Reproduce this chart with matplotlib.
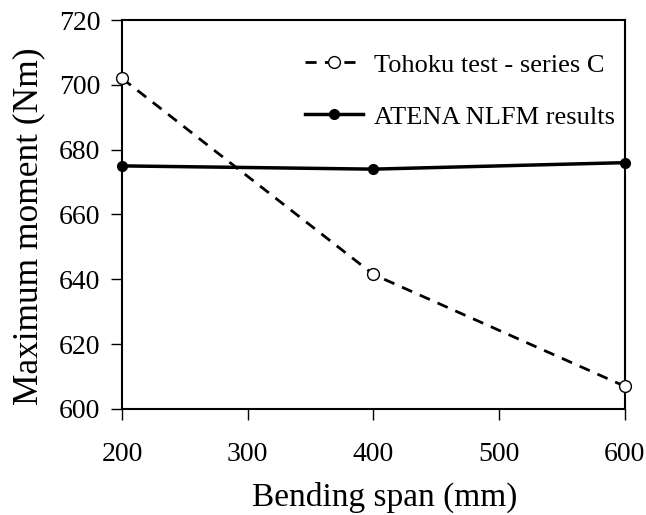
import matplotlib.pyplot as plt

plt.rcParams['font.family'] = ['Liberation Serif', 'DejaVu Serif']

span = [200, 400, 600]
tohoku = [702, 641.5, 607]
atena = [675, 674, 676]

fig = plt.figure(figsize=(6.46, 5.15), dpi=100)
ax = fig.add_axes([0.189, 0.206, 0.778, 0.755])

ax.plot(span, tohoku, '--o', color='black', lw=2, dashes=(4, 3),
        markersize=8.5, markerfacecolor='white', markeredgewidth=1,
        label='Tohoku test - series C', clip_on=False, zorder=3)
ax.plot(span, atena, '-o', color='black', lw=2.5, markersize=7,
        label='ATENA NLFM results', clip_on=False, zorder=3)

ax.set_xlim(200, 600)
ax.set_ylim(600, 720)
ax.set_xticks([200, 300, 400, 500, 600])
ax.set_yticks(range(600, 721, 20))
ax.tick_params(direction='out', length=8, width=1, labelsize=20)
ax.tick_params(axis='y', pad=7.5)
ax.tick_params(axis='x', pad=16)
for s in ax.spines.values():
    s.set_linewidth(1.5)

ax.set_xlabel('Bending span (mm)', fontsize=24)
ax.set_ylabel('Maximum moment (Nm)', fontsize=25.5)
ax.xaxis.set_label_coords(0.523, -0.188)
ax.yaxis.set_label_coords(-0.153, 0.47)

ax.legend(loc='upper left', frameon=False, fontsize=19, handlelength=2.2,
          labelspacing=1.08, handletextpad=0.4, borderpad=0, borderaxespad=0,
          bbox_to_anchor=(0.364, 0.915))

plt.savefig('out.png')
